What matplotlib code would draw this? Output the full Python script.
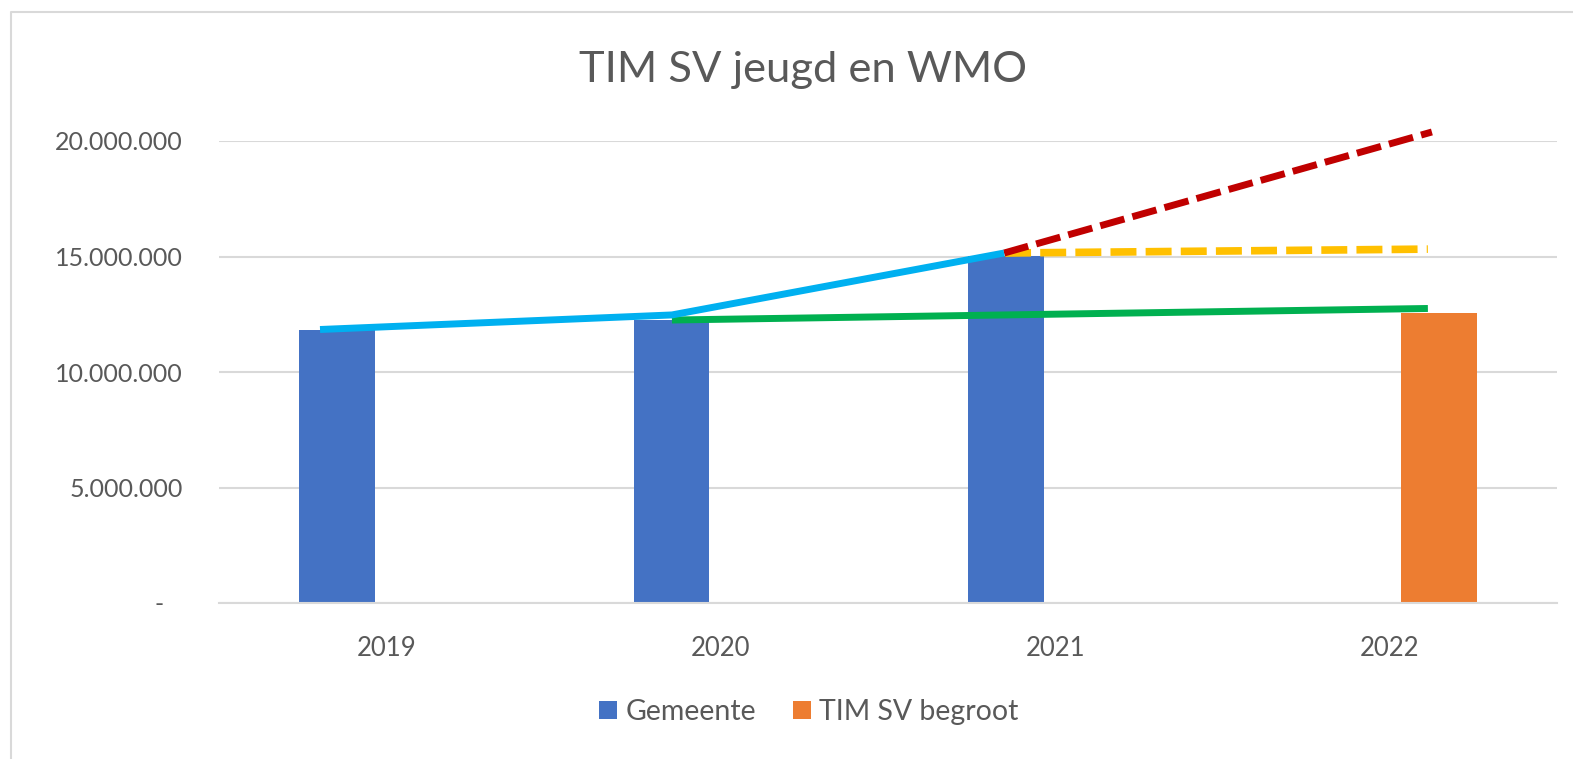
import matplotlib
matplotlib.use("Agg")
import matplotlib.pyplot as plt
import numpy as np
from matplotlib.lines import Line2D
from matplotlib.ticker import FuncFormatter

plt.rcParams['font.family'] = ['Lato', 'DejaVu Sans']

# ---- data ----
categories = ["2019", "2020", "2021", "2022"]
gemeente = [11.82e6, 12.25e6, 15.02e6, np.nan]
tim_sv_begroot = [np.nan, np.nan, np.nan, 12.55e6]
series_names = ["Gemeente", "TIM SV begroot"]
yticks = [0, 5e6, 10e6, 15e6, 20e6]

# trend lines drawn over the chart (x in category units)
trend_actual_x = [-0.198, 0.854, 1.847]
trend_actual_y = [11.84e6, 12.47e6, 15.15e6]
trend_high_x = [1.847, 3.126]
trend_high_y = [15.15e6, 20.39e6]
trend_mid_x = [1.85, 3.114]
trend_mid_y = [15.15e6, 15.32e6]
trend_low_x = [0.854, 3.114]
trend_low_y = [12.25e6, 12.75e6]

# ---- style ----
W, H, DPI = 1573, 759, 100
fig = plt.figure(figsize=(W / DPI, H / DPI), dpi=DPI)
fig.patch.set_facecolor("white")

ax = fig.add_axes([219 / W, 1 - 603 / H, (1557 - 219) / W, (603 - 141) / H])
text_col = "#595959"
grid_col = "#D9D9D9"

x = np.arange(len(categories))
bw = 0.225
off = 0.147
ax.bar(x - off, gemeente, width=bw, color="#4472C4", label=series_names[0], zorder=2)
ax.bar(x + off, tim_sv_begroot, width=bw, color="#ED7D31", label=series_names[1], zorder=2)

lw = 5
ax.plot(trend_low_x, trend_low_y, color="#00B050", lw=lw, solid_capstyle="butt", zorder=3, clip_on=False)
ax.plot(trend_mid_x, trend_mid_y, color="#FFC000", lw=lw + 0.5, dashes=(3.4, 1.2),
        dash_capstyle="butt", zorder=3, clip_on=False)
ax.plot(trend_high_x, trend_high_y, color="#C00000", lw=lw, dashes=(3.6, 1.2),
        dash_capstyle="butt", zorder=4, clip_on=False)
ax.plot(trend_actual_x, trend_actual_y, color="#00B0F0", lw=lw, solid_capstyle="butt",
        solid_joinstyle="miter", zorder=5, clip_on=False)

ax.set_xlim(-0.5, 3.5)
ax.set_ylim(0, 20e6)
ax.set_yticks(yticks)

def fmt(v, pos):
    if v == 0:
        return "-   "
    return f"{int(v):,}".replace(",", ".")

ax.yaxis.set_major_formatter(FuncFormatter(fmt))
ax.set_xticks(x)
ax.set_xticklabels(categories)
ax.tick_params(axis="both", length=0, colors=text_col)
ax.tick_params(axis="y", pad=26, labelsize=18)
ax.tick_params(axis="x", pad=24, labelsize=18.5)
ax.grid(axis="y", color=grid_col, lw=1.5, zorder=0)
ax.set_axisbelow(True)
for s in ["top", "right", "left"]:
    ax.spines[s].set_visible(False)
ax.spines["bottom"].set_color(grid_col)
ax.spines["bottom"].set_linewidth(1.5)

fig.text(803 / W, 1 - 70 / H, "TIM SV jeugd en WMO", ha="center", va="center",
         fontsize=31.3, color=text_col)

leg = fig.legend(loc="center", bbox_to_anchor=(809 / W, 1 - 712 / H), ncol=2, frameon=False,
                 fontsize=20.5, handlelength=0.62, handleheight=0.62, handletextpad=0.3,
                 columnspacing=1.3, labelcolor=text_col)

# outer chart border
fig.add_artist(Line2D([11 / W, 11 / W, 1.0], [0.0, 1 - 12 / H, 1 - 12 / H],
                      transform=fig.transFigure, color=grid_col, lw=1.5))

fig.savefig("out.png", dpi=DPI)
